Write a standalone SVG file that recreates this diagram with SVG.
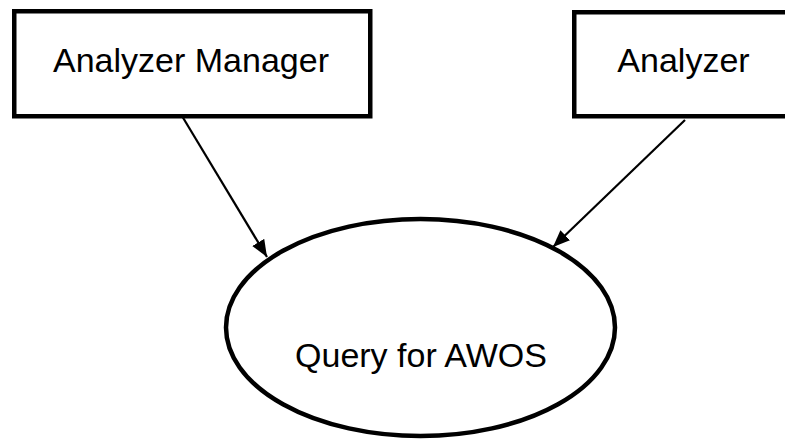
<svg xmlns="http://www.w3.org/2000/svg" width="785" height="441" viewBox="0 0 785 441">
<style>
.node{fill:#fff;stroke:#000;stroke-width:4.5}
.lbl{font-family:"Liberation Sans",Arial,sans-serif;font-size:34px;fill:#000;text-anchor:middle}
.conn{stroke:#000;stroke-width:2.2;fill:none;marker-end:url(#arr)}
</style>
<defs>
<marker id="arr" markerUnits="userSpaceOnUse" markerWidth="18" markerHeight="14" viewBox="0 0 18 14" refX="17" refY="7" orient="auto">
<path d="M0,0 L17,7 L0,14 Z" fill="#000"/>
</marker>
</defs>
<rect width="785" height="441" fill="#fff"/>
<g id="analyzer-manager">
<rect class="node" x="14.25" y="11.25" width="356" height="105"/>
<text class="lbl" x="191" y="72">Analyzer Manager</text>
</g>
<g id="analyzer">
<rect class="node" x="574.25" y="12.25" width="230" height="104"/>
<text class="lbl" x="683.5" y="72">Analyzer</text>
</g>
<g id="query-awos">
<ellipse class="node" cx="420.5" cy="327.5" rx="194.5" ry="108.5"/>
<text class="lbl" x="421" y="367">Query for AWOS</text>
</g>
<g id="connectors">
<line class="conn" x1="182" y1="116" x2="267" y2="257"/>
<line class="conn" x1="685" y1="120" x2="553" y2="247"/>
</g>
</svg>
